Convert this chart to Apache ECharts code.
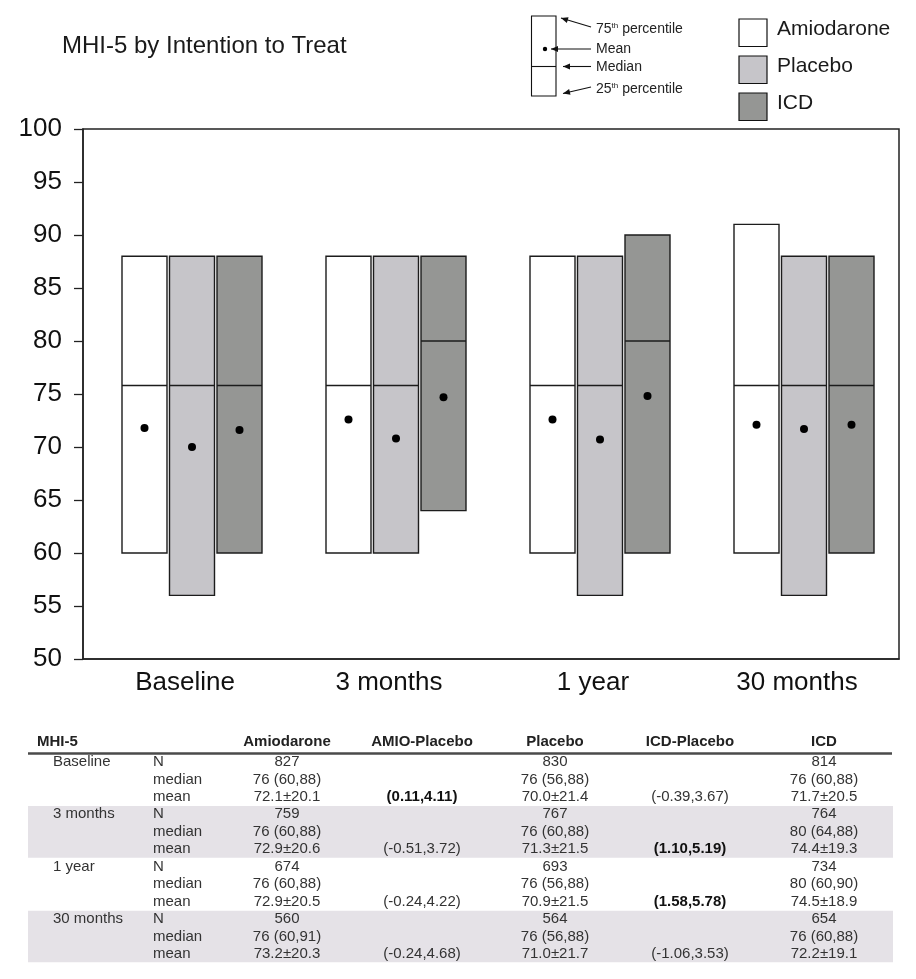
<!DOCTYPE html>
<html>
<head>
<meta charset="utf-8">
<style>
  html, body { margin: 0; padding: 0; background: #ffffff; }
  #chart { width: 916px; height: 979px; }
</style>
<script src="https://cdn.jsdelivr.net/npm/echarts@6/dist/echarts.min.js"></script>
</head>
<body>
<div id="chart"></div>
<script>
// ---------------- DATA ----------------
const categories = ['Baseline', '3 months', '1 year', '30 months'];
const yTicks = [50, 55, 60, 65, 70, 75, 80, 85, 90, 95, 100];

// box plot values (25th percentile, median, 75th percentile, mean)
const amioQ1   = [60, 60, 60, 60];
const amioMed  = [75.8, 75.8, 75.8, 75.8];
const amioQ3   = [88, 88, 88, 91];
const amioMean = [71.8, 72.6, 72.6, 72.1];

const placQ1   = [56, 60, 56, 56];
const placMed  = [75.8, 75.8, 75.8, 75.8];
const placQ3   = [88, 88, 88, 88];
const placMean = [70.0, 70.8, 70.7, 71.7];

const icdQ1    = [60, 64, 60, 60];
const icdMed   = [75.8, 80, 80, 75.8];
const icdQ3    = [88, 88, 90, 88];
const icdMean  = [71.6, 74.7, 74.8, 72.1];

// table values
const tableHeader = ['Amiodarone', 'AMIO-Placebo', 'Placebo', 'ICD-Placebo', 'ICD'];
const tableGroups = ['Baseline', '3 months', '1 year', '30 months'];
const rowLabels = ['N', 'median', 'mean'];
const amioN      = ['827', '759', '674', '560'];
const amioMedTxt = ['76 (60,88)', '76 (60,88)', '76 (60,88)', '76 (60,91)'];
const amioMeanTxt= ['72.1±20.1', '72.9±20.6', '72.9±20.5', '73.2±20.3'];
const placN      = ['830', '767', '693', '564'];
const placMedTxt = ['76 (56,88)', '76 (60,88)', '76 (56,88)', '76 (56,88)'];
const placMeanTxt= ['70.0±21.4', '71.3±21.5', '70.9±21.5', '71.0±21.7'];
const icdN       = ['814', '764', '734', '654'];
const icdMedTxt  = ['76 (60,88)', '80 (64,88)', '80 (60,90)', '76 (60,88)'];
const icdMeanTxt = ['71.7±20.5', '74.4±19.3', '74.5±18.9', '72.2±19.1'];
const amioPlacCI = ['(0.11,4.11)', '(-0.51,3.72)', '(-0.24,4.22)', '(-0.24,4.68)'];
const amioPlacBold = [true, false, false, false];
const icdPlacCI  = ['(-0.39,3.67)', '(1.10,5.19)', '(1.58,5.78)', '(-1.06,3.53)'];
const icdPlacBold = [false, true, true, false];

// ---------------- STYLE ----------------
const FONT = '"Liberation Sans", Arial, Helvetica, sans-serif';
const COLORS = { amio: '#ffffff', plac: '#c6c5c9', icd: '#959694' };
const STROKE = '#1c1c1c';
const BOX_W = 45;
const SLOT = 47.5;
const GROUP_SHIFT = 7;

function seriesData(q1, med, q3, mean) {
  return categories.map((c, i) => [i, q1[i], med[i], q3[i], mean[i]]);
}

function makeRender(slot, color) {
  return function (params, api) {
    const idx = api.value(0);
    const pQ3 = api.coord([idx, api.value(3)]);
    const yQ1 = api.coord([idx, api.value(1)])[1];
    const yMed = api.coord([idx, api.value(2)])[1];
    const yMean = api.coord([idx, api.value(4)])[1];
    const cx = pQ3[0] + GROUP_SHIFT + (slot - 1) * SLOT;
    return {
      type: 'group',
      children: [
        { type: 'rect', shape: { x: cx - BOX_W / 2, y: pQ3[1], width: BOX_W, height: yQ1 - pQ3[1] },
          style: { fill: color, stroke: STROKE, lineWidth: 1.4 } },
        { type: 'line', shape: { x1: cx - BOX_W / 2, y1: yMed, x2: cx + BOX_W / 2, y2: yMed },
          style: { stroke: STROKE, lineWidth: 1.4 } },
        { type: 'circle', shape: { cx: cx, cy: yMean, r: 4 }, style: { fill: '#000' } }
      ]
    };
  };
}

// ---------------- GRAPHICS (title, legends, table) ----------------
const graphics = [];
function txt(x, y, text, opts) {
  opts = opts || {};
  graphics.push({
    type: 'text', x: x, y: y, z: 10,
    style: Object.assign({
      text: text, fill: opts.fill || '#222', font: (opts.weight || 'normal') + ' ' + (opts.size || 15) + 'px ' + FONT,
      textAlign: opts.align || 'left', textVerticalAlign: 'middle'
    }, opts.style || {})
  });
}
function arrow(x1, y1, x2, y2) {
  graphics.push({ type: 'line', z: 10, shape: { x1: x1, y1: y1, x2: x2, y2: y2 }, style: { stroke: '#111', lineWidth: 1.1 } });
  const ang = Math.atan2(y2 - y1, x2 - x1);
  const L = 7, W = 3;
  const bx = x2 - L * Math.cos(ang), by = y2 - L * Math.sin(ang);
  graphics.push({ type: 'polygon', z: 10, shape: { points: [
    [x2, y2],
    [bx + W * Math.sin(ang), by - W * Math.cos(ang)],
    [bx - W * Math.sin(ang), by + W * Math.cos(ang)]
  ] }, style: { fill: '#111' } });
}

// title
txt(62, 46, 'MHI-5 by Intention to Treat', { size: 24, fill: '#1a1a1a' });

// key box
graphics.push({ type: 'rect', z: 10, shape: { x: 531.5, y: 16, width: 24.5, height: 80 }, style: { fill: '#fff', stroke: '#111', lineWidth: 1.1 } });
graphics.push({ type: 'line', z: 10, shape: { x1: 531.5, y1: 66.5, x2: 556, y2: 66.5 }, style: { stroke: '#111', lineWidth: 1.1 } });
graphics.push({ type: 'circle', z: 10, shape: { cx: 545, cy: 49, r: 2.2 }, style: { fill: '#000' } });
arrow(591, 27, 561, 18);
arrow(591, 49, 551, 49);
arrow(591, 66.5, 563, 66.5);
arrow(591, 87, 563, 93.5);
const keySmall = 14;
graphics.push({ type: 'text', x: 596, y: 29, z: 10, style: {
  text: '{n|75}{s|th}{n| percentile}', textVerticalAlign: 'middle', fill: '#222',
  rich: { n: { fontSize: keySmall, fontFamily: FONT, fill: '#222' }, s: { fontSize: 8, fontFamily: FONT, fill: '#222', verticalAlign: 'top', padding: [0, 0, 6, 0] } }
} });
txt(596, 49, 'Mean', { size: keySmall });
txt(596, 67, 'Median', { size: keySmall });
graphics.push({ type: 'text', x: 596, y: 89, z: 10, style: {
  text: '{n|25}{s|th}{n| percentile}', textVerticalAlign: 'middle', fill: '#222',
  rich: { n: { fontSize: keySmall, fontFamily: FONT, fill: '#222' }, s: { fontSize: 8, fontFamily: FONT, fill: '#222', verticalAlign: 'top', padding: [0, 0, 6, 0] } }
} });

// treatment legend
const legendNames = ['Amiodarone', 'Placebo', 'ICD'];
const legendColors = [COLORS.amio, COLORS.plac, COLORS.icd];
const legendTops = [19, 56, 93];
legendNames.forEach((n, i) => {
  graphics.push({ type: 'rect', z: 10, shape: { x: 739, y: legendTops[i], width: 28, height: 27.5 },
    style: { fill: legendColors[i], stroke: '#111', lineWidth: 1.2 } });
  txt(777, legendTops[i] + 10, n, { size: 21, fill: '#1a1a1a' });
});

// table
const colX = [287, 422, 555, 690, 824];
const ROW0 = 762, ROWH = 17.45;
const rowY = i => ROW0 + ROWH * i;
// bands for 3 months and 30 months
[1, 3].forEach(g => {
  const top = rowY(g * 3) - 8.4;
  const bot = rowY(g * 3 + 2) + 8.4;
  graphics.push({ type: 'rect', z: 1, shape: { x: 28, y: top, width: 865, height: bot - top }, style: { fill: '#e5e2e7' } });
});
// header
txt(37, 742, 'MHI-5', { weight: 'bold', size: 15 });
tableHeader.forEach((h, j) => txt(colX[j], 742, h, { weight: 'bold', size: 15, align: 'center' }));
graphics.push({ type: 'line', z: 5, shape: { x1: 28, y1: 753.5, x2: 892, y2: 753.5 }, style: { stroke: '#4a4a4a', lineWidth: 2.6 } });

tableGroups.forEach((g, gi) => {
  const base = gi * 3;
  txt(53, rowY(base), g, { size: 15, fill: '#333' });
  rowLabels.forEach((r, ri) => txt(153, rowY(base + ri), r, { size: 15, fill: '#333' }));
  // N row
  txt(colX[0], rowY(base), amioN[gi], { size: 15, align: 'center', fill: '#333' });
  txt(colX[2], rowY(base), placN[gi], { size: 15, align: 'center', fill: '#333' });
  txt(colX[4], rowY(base), icdN[gi], { size: 15, align: 'center', fill: '#333' });
  // median row
  txt(colX[0], rowY(base + 1), amioMedTxt[gi], { size: 15, align: 'center', fill: '#333' });
  txt(colX[2], rowY(base + 1), placMedTxt[gi], { size: 15, align: 'center', fill: '#333' });
  txt(colX[4], rowY(base + 1), icdMedTxt[gi], { size: 15, align: 'center', fill: '#333' });
  // mean row
  txt(colX[0], rowY(base + 2), amioMeanTxt[gi], { size: 15, align: 'center', fill: '#333' });
  txt(colX[1], rowY(base + 2), amioPlacCI[gi], { size: 15, align: 'center', fill: amioPlacBold[gi] ? '#111' : '#333', weight: amioPlacBold[gi] ? 'bold' : 'normal' });
  txt(colX[2], rowY(base + 2), placMeanTxt[gi], { size: 15, align: 'center', fill: '#333' });
  txt(colX[3], rowY(base + 2), icdPlacCI[gi], { size: 15, align: 'center', fill: icdPlacBold[gi] ? '#111' : '#333', weight: icdPlacBold[gi] ? 'bold' : 'normal' });
  txt(colX[4], rowY(base + 2), icdMeanTxt[gi], { size: 15, align: 'center', fill: '#333' });
});

// ---------------- CHART ----------------
const chart = echarts.init(document.getElementById('chart'), null, { renderer: 'canvas' });
chart.setOption({
  backgroundColor: '#ffffff',
  animation: false,
  grid: { left: 83, top: 129, width: 816, height: 530, show: true, borderColor: '#222', borderWidth: 1.5, backgroundColor: 'transparent' },
  xAxis: {
    type: 'category', data: categories, boundaryGap: true,
    axisLine: { show: true, lineStyle: { color: '#222', width: 1.5 } },
    axisTick: { show: false },
    axisLabel: { fontSize: 26, color: '#111', fontFamily: FONT, margin: 11 },
    splitLine: { show: false }
  },
  yAxis: {
    type: 'value', min: yTicks[0], max: yTicks[yTicks.length - 1], interval: 5,
    axisLine: { show: true, lineStyle: { color: '#222', width: 1.5 } },
    axisTick: { show: true, inside: false, length: 9, lineStyle: { color: '#222', width: 1.3 } },
    axisLabel: { fontSize: 26, color: '#111', fontFamily: FONT, margin: 21 },
    splitLine: { show: false }
  },
  series: [
    { name: 'Amiodarone', type: 'custom', renderItem: makeRender(0, COLORS.amio), data: seriesData(amioQ1, amioMed, amioQ3, amioMean), encode: { x: 0, y: [1, 2, 3, 4] }, z: 3 },
    { name: 'Placebo', type: 'custom', renderItem: makeRender(1, COLORS.plac), data: seriesData(placQ1, placMed, placQ3, placMean), encode: { x: 0, y: [1, 2, 3, 4] }, z: 3 },
    { name: 'ICD', type: 'custom', renderItem: makeRender(2, COLORS.icd), data: seriesData(icdQ1, icdMed, icdQ3, icdMean), encode: { x: 0, y: [1, 2, 3, 4] }, z: 3 }
  ],
  graphic: graphics
});
</script>
</body>
</html>
